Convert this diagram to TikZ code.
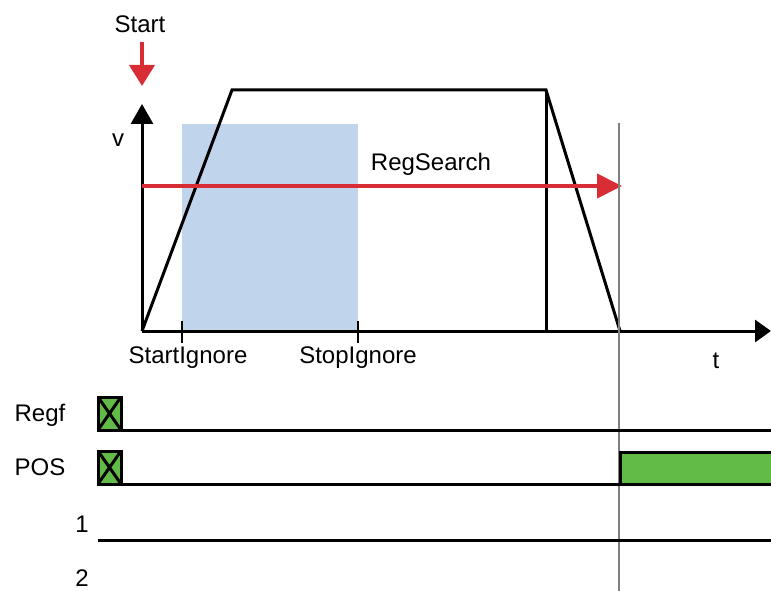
\documentclass[tikz,border=0pt]{standalone}
\usepackage{fontspec}
\setmainfont{Liberation Sans}
\usetikzlibrary{arrows.meta}
\definecolor{ignoreblue}{RGB}{192,212,236}
\definecolor{sigred}{RGB}{216,45,52}
\definecolor{siggreen}{RGB}{98,187,70}
\begin{document}
\begin{tikzpicture}[x=1pt,y=-1pt,
    lbl/.style={font=\fontsize{24}{28}\selectfont,inner sep=0pt,yshift=-2pt},
    axis/.style={line width=3pt,-{Triangle[length=20pt,width=22pt]}},
    sig/.style={line width=3pt},
    redarrow/.style={draw=sigred,line width=4pt,-{Triangle[length=25pt,width=24pt]}},
    xbox/.style={fill=siggreen,draw,line width=3pt}]
  \useasboundingbox (0,0) rectangle (771,591);

  % Diagram 1: speed profile
  \coordinate (O) at (142,331);
  \coordinate (vtop) at (142,104);
  \coordinate (tend) at (771,331);
  \fill[ignoreblue] (182,124) rectangle (358,331);
  \draw[line width=3pt,line join=miter] (O) -- (232,90) -- (546,90) -- (620,331);
  \draw[line width=3pt] (546,90) -- (546,331);
  \draw[axis] (O) -- (vtop);
  \draw[axis,-{Triangle[length=16pt,width=22pt]}] (O) -- (tend);
  \node[lbl] (v) at (118,138) {v};
  \node[lbl] (t) at (716,359) {t};
  \draw[line width=2pt] (182,321) -- (182,343);
  \draw[line width=2pt] (358,321) -- (358,343);
  \node[lbl] (startig) at (188,356) {StartIgnore};
  \node[lbl] (stopig) at (358,356) {StopIgnore};

  % Start marker and search window
  \node[lbl] (start) at (140,22) {Start};
  \coordinate (startend) at (142,86);
  \draw[redarrow,-{Triangle[length=21pt,width=25pt]}] (142,42) -- (startend);
  \coordinate (searchA) at (142,186);
  \coordinate (searchB) at (622,186);
  \draw[redarrow] (searchA) -- (searchB);
  \node[lbl] (search) at (431,162) {RegSearch};

  % Diagram 2: signals
  \draw[gray,line width=1.5pt] (619,123) -- (619,591);
  \node[lbl] (regf) at (40,413) {Regf};
  \node[lbl] (pos) at (40,465) {POS};
  \node[lbl] (one) at (82,522) {1};
  \node[lbl,yshift=0pt,text depth=0pt,anchor=south] (two) at (82,585) {2};
  \draw[sig] (98,430) -- (771,430);
  \draw[xbox] (98,397) rectangle (121,430);
  \draw[sig] (98,397) -- (121,430) (121,397) -- (98,430);
  \fill[siggreen] (620,452) rectangle (771,484);
  \draw[sig] (98,484) -- (771,484);
  \draw[sig] (620,484) -- (620,452) -- (771,452);
  \draw[xbox] (98,451) rectangle (121,484);
  \draw[sig] (98,451) -- (121,484) (121,451) -- (98,484);
  \draw[sig] (98,540) -- (771,540);
\end{tikzpicture}
\end{document}
